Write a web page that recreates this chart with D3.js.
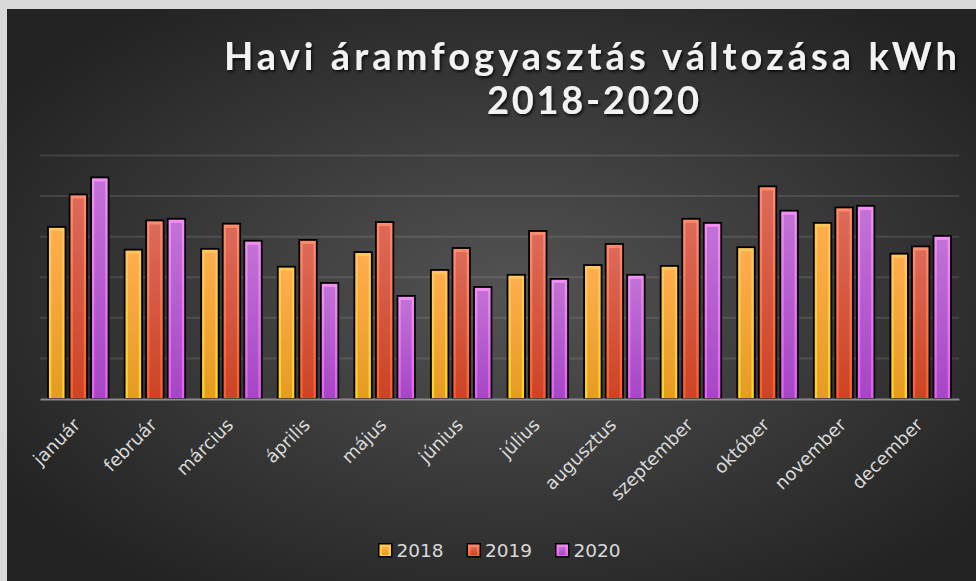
<!DOCTYPE html>
<html>
<head>
<meta charset="utf-8">
<script src="https://cdn.jsdelivr.net/npm/d3@7"></script>
<style>
  html, body { margin: 0; padding: 0; background: #d9d9d9; }
  svg { display: block; }
</style>
</head>
<body>
<svg id="chart" width="976" height="581"></svg>
<script>
// ADATOK
const months = ["január", "február", "március", "április", "május", "június",
  "július", "augusztus", "szeptember", "október", "november", "december"];
const years = ["2018", "2019", "2020"];
const values2018 = [212, 184, 185, 163, 181, 159, 153, 165, 164, 187, 217, 179];
const values2019 = [252, 220, 216, 196, 218, 186, 207, 191, 222, 262, 236, 188];
const values2020 = [273, 222, 195, 143, 127, 138, 148, 153, 217, 232, 238, 201];
const yTicks = [0, 50, 100, 150, 200, 250, 300];
const titleLines = ["Havi áramfogyasztás változása kWh", "2018-2020"];

const seriesValues = { "2018": values2018, "2019": values2019, "2020": values2020 };

// colours for the bevelled bars: outer edge and inner face (top -> bottom)
const barColors = {
  "2018": { edge: ["#ffc65c", "#ffd41e"], face: ["#ffad4e", "#e59c22"] },
  "2019": { edge: ["#ff8c6c", "#ff5c2a"], face: ["#dc6a5a", "#cc4424"] },
  "2020": { edge: ["#f290f2", "#e85ef2"], face: ["#c272d6", "#a646c6"] }
};

const width = 976, height = 581;
const plot = { left: 40, right: 959, top: 155.5, bottom: 399 };
const labelFont = "'DejaVu Sans', Lato, sans-serif";

const svg = d3.select("#chart");
const defs = svg.append("defs");

// BACKGROUND
const bg = defs.append("radialGradient")
  .attr("id", "bgGrad")
  .attr("cx", "52%").attr("cy", "50%").attr("r", "62%");
bg.append("stop").attr("offset", "0%").attr("stop-color", "#535353");
bg.append("stop").attr("offset", "100%").attr("stop-color", "#232323");

svg.append("rect")
  .attr("x", 7).attr("y", 9)
  .attr("width", width - 7).attr("height", height - 9)
  .attr("fill", "url(#bgGrad)");

// title shadow
const shadow = defs.append("filter").attr("id", "titleShadow")
  .attr("x", "-10%").attr("y", "-30%").attr("width", "120%").attr("height", "160%");
shadow.append("feDropShadow")
  .attr("dx", 1.5).attr("dy", 2).attr("stdDeviation", 1.5)
  .attr("flood-color", "#000").attr("flood-opacity", 0.75);

// bar gradients
years.forEach(function(y) {
  ["edge", "face"].forEach(function(part) {
    const g = defs.append("linearGradient")
      .attr("id", "g" + y + part)
      .attr("x1", 0).attr("y1", 0).attr("x2", 0).attr("y2", 1);
    g.append("stop").attr("offset", "0%").attr("stop-color", barColors[y][part][0]);
    g.append("stop").attr("offset", "100%").attr("stop-color", barColors[y][part][1]);
  });
});

// SCALES
const x0 = d3.scaleBand()
  .domain(months)
  .range([plot.left, plot.right])
  .paddingInner(0.19)
  .paddingOuter(0.095);

const x1 = d3.scaleBand()
  .domain(years)
  .range([0, x0.bandwidth()])
  .paddingInner(0.12)
  .paddingOuter(0);

const y = d3.scaleLinear()
  .domain([0, d3.max(yTicks)])
  .range([plot.bottom, plot.top]);

// GRIDLINES
svg.append("g")
  .selectAll("line")
  .data(yTicks.filter(t => t > 0))
  .enter().append("line")
  .attr("x1", plot.left).attr("x2", plot.right)
  .attr("y1", d => y(d)).attr("y2", d => y(d))
  .attr("stroke", "rgba(255,255,255,0.11)")
  .attr("stroke-width", 2);

// BARS
const rows = months.map(function(m, i) {
  return years.map(function(yr) { return { month: m, year: yr, value: seriesValues[yr][i] }; });
});

const groups = svg.append("g").selectAll("g")
  .data(rows)
  .enter().append("g")
  .attr("transform", (d, i) => "translate(" + x0(months[i]) + ",0)");

groups.selectAll("rect.edge")
  .data(d => d)
  .enter().append("rect")
  .attr("class", "edge")
  .attr("x", d => x1(d.year) + 0.75)
  .attr("y", d => y(d.value))
  .attr("width", x1.bandwidth() - 1.5)
  .attr("height", d => plot.bottom - y(d.value))
  .attr("fill", d => "url(#g" + d.year + "edge)")
  .attr("stroke", "#000")
  .attr("stroke-width", 1.8);

groups.selectAll("rect.face")
  .data(d => d)
  .enter().append("rect")
  .attr("class", "face")
  .attr("x", d => x1(d.year) + 4)
  .attr("y", d => y(d.value) + 4)
  .attr("width", x1.bandwidth() - 8)
  .attr("height", d => Math.max(0, plot.bottom - y(d.value) - 5))
  .attr("fill", d => "url(#g" + d.year + "face)");

// X AXIS (baseline + rotated labels)
const xAxis = svg.append("g")
  .attr("transform", "translate(0," + plot.bottom + ")")
  .call(d3.axisBottom(x0).tickSize(0).tickPadding(0));

xAxis.select(".domain")
  .attr("stroke", "#8a8a8a")
  .attr("stroke-width", 2.2);

xAxis.selectAll("text")
  .attr("fill", "#d9d9d9")
  .style("font-family", labelFont)
  .style("font-size", "18px")
  .attr("text-anchor", "end")
  .attr("dy", 0)
  .attr("y", 0)
  .attr("transform", "translate(3,27) rotate(-45)");

// TITLE
const title = svg.append("g")
  .attr("filter", "url(#titleShadow)");

title.append("text")
  .attr("x", 590.5).attr("y", 69.5)
  .attr("text-anchor", "middle")
  .attr("textLength", 733)
  .attr("lengthAdjust", "spacing")
  .attr("fill", "#f2f2f2")
  .style("font-family", "Lato, 'DejaVu Sans', sans-serif")
  .style("font-weight", "bold")
  .style("font-size", "38px")
  .text(titleLines[0]);

title.append("text")
  .attr("x", 593).attr("y", 113.5)
  .attr("text-anchor", "middle")
  .attr("textLength", 212)
  .attr("lengthAdjust", "spacing")
  .attr("fill", "#f2f2f2")
  .style("font-family", "Lato, 'DejaVu Sans', sans-serif")
  .style("font-weight", "bold")
  .style("font-size", "38px")
  .text(titleLines[1]);

// LEGEND
const legend = svg.append("g")
  .attr("transform", "translate(378,543)");

const legendItem = legend.selectAll("g")
  .data(years)
  .enter().append("g")
  .attr("transform", (d, i) => "translate(" + (i * 88.5) + ",0)");

legendItem.append("rect")
  .attr("x", 0.75).attr("y", 0.75)
  .attr("width", 13).attr("height", 13)
  .attr("fill", d => "url(#g" + d + "edge)")
  .attr("stroke", "#000")
  .attr("stroke-width", 1.5);

legendItem.append("rect")
  .attr("x", 4).attr("y", 4)
  .attr("width", 6.5).attr("height", 8)
  .attr("fill", d => "url(#g" + d + "face)");

legendItem.append("text")
  .attr("x", 18.5).attr("y", 13.5)
  .attr("fill", "#d9d9d9")
  .style("font-family", labelFont)
  .style("font-size", "18.5px")
  .text(d => d);
</script>
</body>
</html>
